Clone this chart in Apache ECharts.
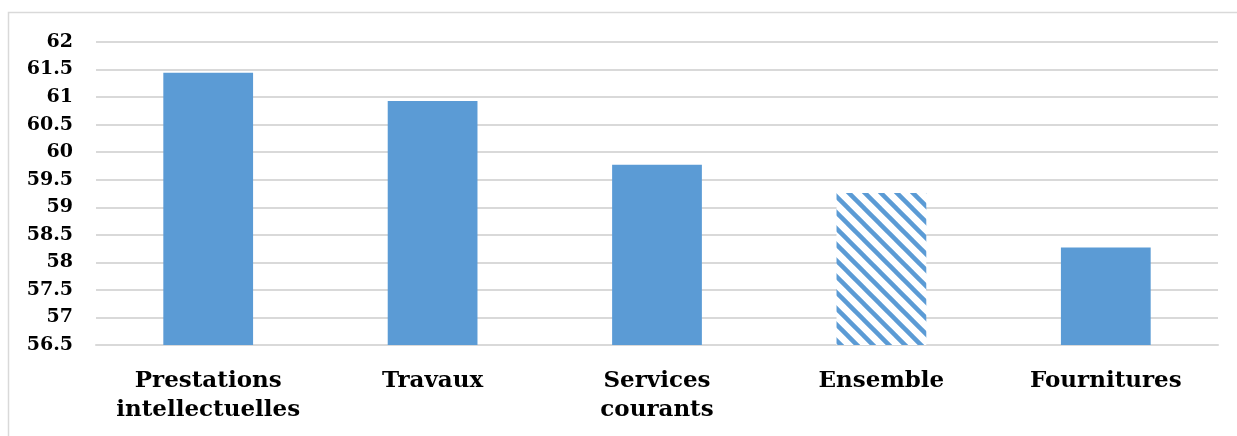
<!DOCTYPE html>
<html>
<head>
<meta charset="utf-8">
<script src="https://cdn.jsdelivr.net/npm/echarts@6/dist/echarts.min.js"></script>
<style>
html,body{margin:0;padding:0;background:#fff;}
#chart{width:1237px;height:436px;}
</style>
</head>
<body>
<div id="chart"></div>
<script>
const categories = ['Prestations\nintellectuelles', 'Travaux', 'Services\ncourants', 'Ensemble', 'Fournitures'];
const values = [61.44, 60.93, 59.77, 59.26, 58.27];
const hatchedIndex = 3;
const yMin = 56.5, yMax = 62, yStep = 0.5;

const BLUE = '#5B9BD5';
const FONT = 'DejaVu Serif';

function hatchCanvas() {
  const s = 16;
  const c = document.createElement('canvas');
  c.width = s; c.height = s;
  const g = c.getContext('2d');
  g.fillStyle = '#fff';
  g.fillRect(0, 0, s, s);
  g.strokeStyle = BLUE;
  g.lineWidth = 4.5;
  for (const o of [-s, 0, s]) {
    g.beginPath();
    g.moveTo(o - 2, -2);
    g.lineTo(o + s + 2, s + 2);
    g.stroke();
  }
  return c;
}

const chart = echarts.init(document.getElementById('chart'));
const data = values.map((v, i) => i === hatchedIndex
  ? { value: v, itemStyle: { color: { image: hatchCanvas(), repeat: 'repeat' } } }
  : v);

chart.setOption({
  animation: false,
  graphic: [{
    type: 'rect', shape: { x: 8.5, y: 12.5, width: 1300, height: 500 },
    style: { fill: 'none', stroke: '#d9d9d9', lineWidth: 1.5 }, silent: true, z: -1
  }],
  grid: { left: 96, right: 19, top: 42, bottom: 91, containLabel: false },
  xAxis: {
    type: 'category',
    data: categories,
    axisLine: { show: true, lineStyle: { color: '#d9d9d9', width: 2 } },
    axisTick: { show: false },
    axisLabel: {
      fontFamily: FONT, fontWeight: 'bold', fontSize: 23, color: '#000',
      lineHeight: 29, margin: 22, interval: 0
    }
  },
  yAxis: {
    type: 'value', min: yMin, max: yMax, interval: yStep,
    axisLine: { show: false }, axisTick: { show: false },
    splitLine: { lineStyle: { color: '#d9d9d9', width: 2 } },
    axisLabel: {
      fontFamily: FONT, fontWeight: 'bold', fontSize: 19, color: '#000', margin: 23,
      formatter: v => String(Math.round(v * 10) / 10)
    }
  },
  series: [{
    type: 'bar', data: data, barWidth: '40%',
    itemStyle: { color: BLUE }
  }]
});
</script>
</body>
</html>
